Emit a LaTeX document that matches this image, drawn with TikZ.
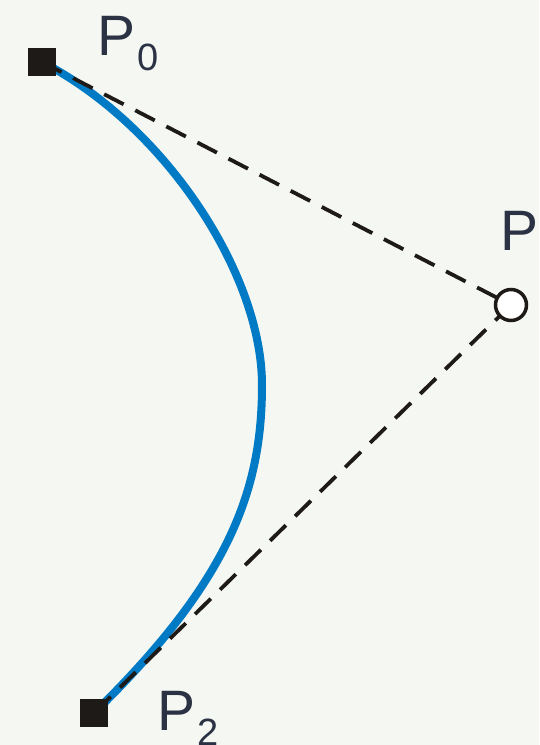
\documentclass[tikz,border=0pt]{standalone}
\usepackage{fontspec}
\setmainfont{Liberation Sans}
\usetikzlibrary{calc,positioning}
\definecolor{bgpaper}{RGB}{245,247,242}
\definecolor{curveblue}{RGB}{0,122,197}
\definecolor{ptblack}{RGB}{30,26,23}
\definecolor{lblnavy}{RGB}{43,50,68}
\tikzset{
  curve/.style={line width=8pt, color=curveblue},
  ctrlline/.style={line width=3.8pt, color=ptblack, dash pattern=on 22pt off 13pt},
  endpt/.style={
    rectangle, minimum size=28pt, inner sep=0pt, fill=ptblack
  },
  weightpt/.style={
    circle, minimum size=31pt, inner sep=0pt, draw=ptblack,
    line width=3.5pt, fill=white
  },
  lbl/.style={anchor=base west, inner sep=0pt, text=lblnavy,
    font=\fontsize{57}{57}\selectfont}
}
\newcommand{\ptlbl}[2]{#1\kern2pt\raisebox{-15pt}{\fontsize{38}{38}\selectfont #2}}

\begin{document}
\begin{tikzpicture}[x=1pt, y=-1pt]
  \useasboundingbox[fill=bgpaper] (0,0) rectangle (539,745);

  \coordinate (p0) at (42,62);
  \coordinate (p1) at (511,305);
  \coordinate (p2) at (94,713);
  \coordinate (mid) at (262,385);

  % curve, tangent to the dashed lines at both ends
  \draw[curve] (p0) .. controls ($(p0)!140pt!(p1)$) and +(0,-110) .. (mid)
                    .. controls +(0,105) and ($(p2)!190pt!(p1)$) .. (p2);

  \draw[ctrlline] (p0) -- (p1);
  \draw[ctrlline] (p1) -- (p2);

  \node[endpt] (n0) at (p0) {};
  \node[endpt] (n2) at (p2) {};
  \node[weightpt] (n1) at (p1) {};

  \node[lbl] (l0) at (97,55) {\ptlbl{P}{0}};
  \node[lbl] (l1) at (500,250) {P};
  \node[lbl] (l2) at (157,730) {\ptlbl{P}{2}};
\end{tikzpicture}
\end{document}
